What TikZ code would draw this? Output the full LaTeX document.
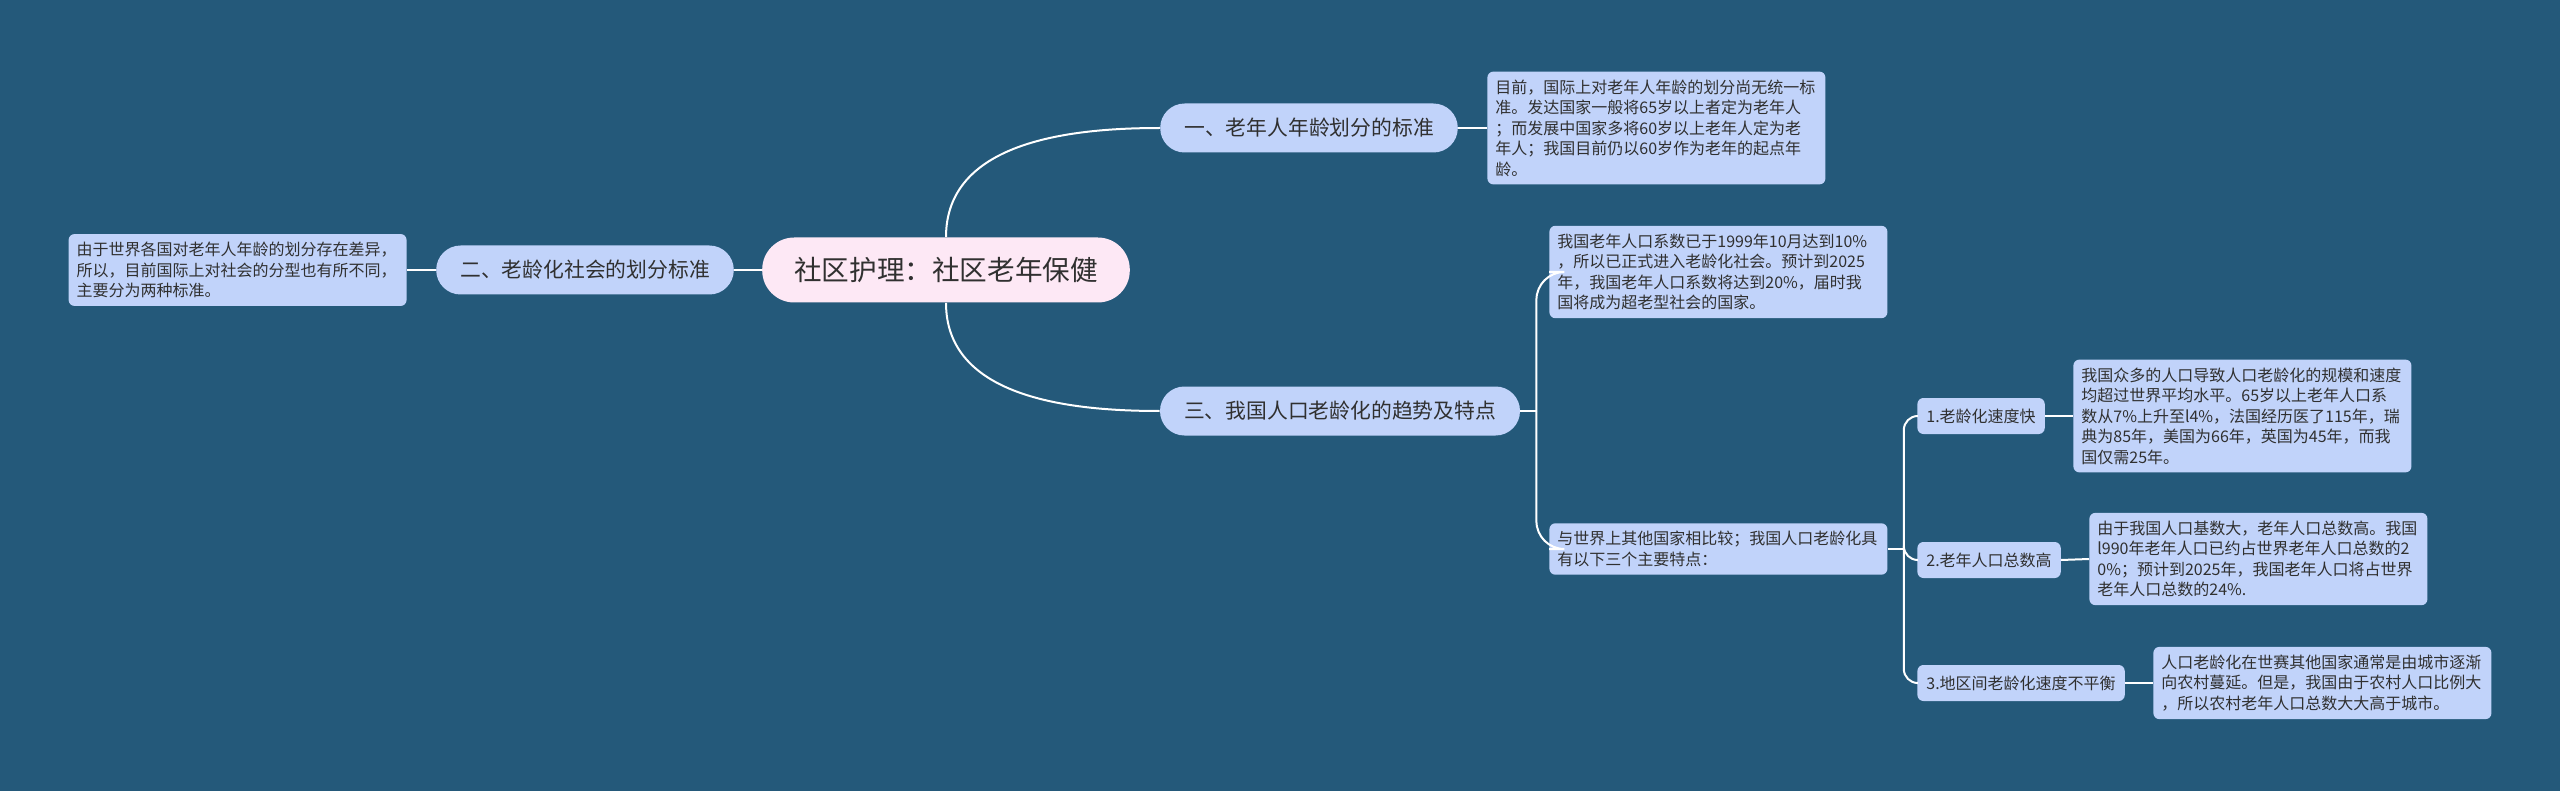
\documentclass[tikz,border=0pt]{standalone}
\usepackage{fontspec}
\setmainfont{Noto Sans CJK SC}
\usepackage{tikz}
\usepackage{xcolor}
\usetikzlibrary{positioning}

\definecolor{bgblue}{RGB}{36,89,122}
\definecolor{boxblue}{RGB}{193,211,250}
\definecolor{rootpink}{RGB}{253,232,245}
\definecolor{inkgray}{RGB}{48,48,48}

\tikzset{
    topic/.style={fill=rootpink, text=inkgray, rounded corners=16pt,
        minimum height=32.5pt, inner xsep=16pt, font=\fontsize{13.8}{16}\selectfont},
    branch/.style={fill=boxblue, text=inkgray, rounded corners=12.2pt,
        minimum height=24.5pt, inner xsep=12pt, font=\fontsize{10.4}{12}\selectfont},
    note/.style={fill=boxblue, text=inkgray, rounded corners=3pt,
        text width=161pt, inner xsep=4pt, inner ysep=4pt, align=left,
        font=\fontsize{8}{10.25}\selectfont},
    sub/.style={fill=boxblue, text=inkgray, rounded corners=3pt,
        minimum height=18pt, inner xsep=4.5pt, font=\fontsize{8}{10}\selectfont},
    link/.style={draw=white, line width=1pt}
}

\begin{document}
\begin{tikzpicture}[x=0.5pt, y=-0.5pt]
    \fill[bgblue] (0,0) rectangle (2560,791);
    \useasboundingbox (0,0) rectangle (2560,791);

    % main topics
    \node[topic] (root) at (946, 270) {社区护理：社区老年保健};
    \node[branch] (one) at (1309, 128) {一、老年人年龄划分的标准};
    \node[branch] (two) at (585, 270) {二、老龄化社会的划分标准};
    \node[branch] (three) at (1340, 411) {三、我国人口老龄化的趋势及特点};

    % notes
    \node[note, anchor=west] (oneN) at (1487, 128) {目前，国际上对老年人年龄的划分尚无统一标\\准。发达国家一般将65岁以上者定为老年人\\；而发展中国家多将60岁以上老年人定为老\\年人；我国目前仍以60岁作为老年的起点年\\龄。};
    \node[note, anchor=east] (twoN) at (407, 270) {由于世界各国对老年人年龄的划分存在差异，\\所以，目前国际上对社会的分型也有所不同，\\主要分为两种标准。};
    \node[note, anchor=west] (threeA) at (1549, 272) {我国老年人口系数已于1999年10月达到10\%\\，所以已正式进入老龄化社会。预计到2025\\年，我国老年人口系数将达到20\%，届时我\\国将成为超老型社会的国家。};
    \node[note, anchor=west] (threeB) at (1549, 549) {与世界上其他国家相比较；我国人口老龄化具\\有以下三个主要特点：};

    % features
    \node[sub, anchor=west] (feat1) at (1917, 416) {1.老龄化速度快};
    \node[sub, anchor=west] (feat2) at (1917, 560) {2.老年人口总数高};
    \node[sub, anchor=west] (feat3) at (1917, 683) {3.地区间老龄化速度不平衡};
    \node[note, anchor=west] (feat1N) at (2073, 416) {我国众多的人口导致人口老龄化的规模和速度\\均超过世界平均水平。65岁以上老年人口系\\数从7\%上升至l4\%，法国经历医了115年，瑞\\典为85年，美国为66年，英国为45年，而我\\国仅需25年。};
    \node[note, anchor=west] (feat2N) at (2089, 559) {由于我国人口基数大，老年人口总数高。我国\\l990年老年人口已约占世界老年人口总数的2\\0\%；预计到2025年，我国老年人口将占世界\\老年人口总数的24\%.};
    \node[note, anchor=west] (feat3N) at (2153, 683) {人口老龄化在世赛其他国家通常是由城市逐渐\\向农村蔓延。但是，我国由于农村人口比例大\\，所以农村老年人口总数大大高于城市。};

    % connectors
    \draw[link] (root.north) to[out=90, in=180] (one.west);
    \draw[link] (root.south) to[out=-90, in=180] (three.west);
    \draw[link] (root.west) -- (two.east);
    \draw[link] (one.east) -- (oneN.west);
    \draw[link] (two.west) -- (twoN.east);
    \draw[link] (three.east) -- ++(16,0) coordinate (fork3);
    \draw[link, rounded corners=14pt] (fork3) |- (threeA.west);
    \draw[link, rounded corners=14pt] (fork3) |- (threeB.west);
    \draw[link] (threeB.east) -- ++(16,0) coordinate (forkB);
    \draw[link, rounded corners=7pt] (forkB) |- (feat1.west);
    \draw[link, rounded corners=7pt] (forkB) |- (feat2.west);
    \draw[link, rounded corners=7pt] (forkB) |- (feat3.west);
    \draw[link] (feat1.east) -- (feat1N.west);
    \draw[link] (feat2.east) -- (feat2N.west);
    \draw[link] (feat3.east) -- (feat3N.west);
\end{tikzpicture}
\end{document}
